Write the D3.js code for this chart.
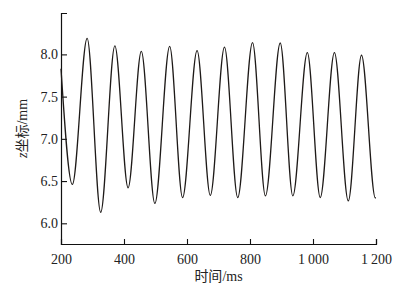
<!DOCTYPE html>
<html>
<head>
<meta charset="utf-8">
<script src="https://cdn.jsdelivr.net/npm/d3@7/dist/d3.min.js"></script>
<style>
  body { margin: 0; background: #fff; }
  svg text { font-family: "Liberation Serif", "Times New Roman", serif; }
</style>
</head>
<body>
<div id="chart"></div>
<script>
// time (ms) and z coordinate (mm) read at the turning points of the curve
var times  = [200, 236, 283, 326, 371, 413, 455, 498, 545, 586, 632, 674, 719, 761, 808, 849, 896, 936, 982, 1023, 1068, 1112, 1154, 1198, 1200];
var zValues = [7.83, 6.46, 8.19, 6.13, 8.10, 6.42, 8.035, 6.235, 8.095, 6.305, 8.045, 6.33, 8.085, 6.305, 8.14, 6.325, 8.135, 6.325, 8.02, 6.305, 8.02, 6.265, 7.99, 6.30, 6.30];
var xTicks = [200, 400, 600, 800, 1000, 1200];
var yTicks = [6.0, 6.5, 7.0, 7.5, 8.0];

var W = 405, H = 286;
var margin = {top: 13, right: 29, bottom: 42, left: 61};
var width = W - margin.left - margin.right;
var height = H - margin.top - margin.bottom;

var data = times.map((t, i) => ({t: t, z: zValues[i]}));

var svg = d3.select("#chart").append("svg")
    .attr("width", W)
    .attr("height", H)
  .append("g")
    .attr("transform", "translate(" + margin.left + "," + margin.top + ")");

var x = d3.scaleLinear().domain([200, 1200]).range([0, width]);
var y = d3.scaleLinear().domain([5.755, 8.49]).range([height, 0]);

var fmtX = d => d >= 1000 ? Math.floor(d / 1000) + "\u2009" + d3.format("03d")(d % 1000) : d;

var xAxis = svg.append("g")
    .attr("transform", "translate(0," + height + ")")
    .call(d3.axisBottom(x).tickValues(xTicks).tickSize(-5).tickPadding(10).tickFormat(fmtX));

var yAxis = svg.append("g")
    .call(d3.axisLeft(y).tickValues(yTicks).tickSize(-6).tickPadding(3).tickFormat(d3.format(".1f")));

[xAxis, yAxis].forEach(a => {
  a.select(".domain").attr("stroke", "#111").attr("stroke-width", 1.2);
  a.selectAll(".tick line").attr("stroke", "#111").attr("stroke-width", 1.1);
  a.selectAll(".tick text").attr("fill", "#222").style("font-size", "14px");
});
xAxis.selectAll(".tick").filter(d => d === 200).select("line").remove();

svg.append("path")
    .datum(data)
    .attr("fill", "none")
    .attr("stroke", "#1e1a18")
    .attr("stroke-width", 1.3)
    .attr("d", d3.line().x(d => x(d.t)).y(d => y(d.z)).curve(d3.curveMonotoneX));

svg.append("text")
    .attr("x", width / 2)
    .attr("y", height + 37)
    .attr("text-anchor", "middle")
    .attr("fill", "#222")
    .style("font-size", "14px")
    .html('<tspan style="font-family:\'Noto Sans CJK SC\'">时间</tspan>/ms');

svg.append("text")
    .attr("transform", "translate(-34," + (height / 2) + ") rotate(-90)")
    .attr("text-anchor", "middle")
    .attr("fill", "#222")
    .style("font-size", "14px")
    .html('<tspan font-style="italic">z</tspan><tspan style="font-family:\'Noto Sans CJK SC\'">坐标</tspan>/mm');
</script>
</body>
</html>
